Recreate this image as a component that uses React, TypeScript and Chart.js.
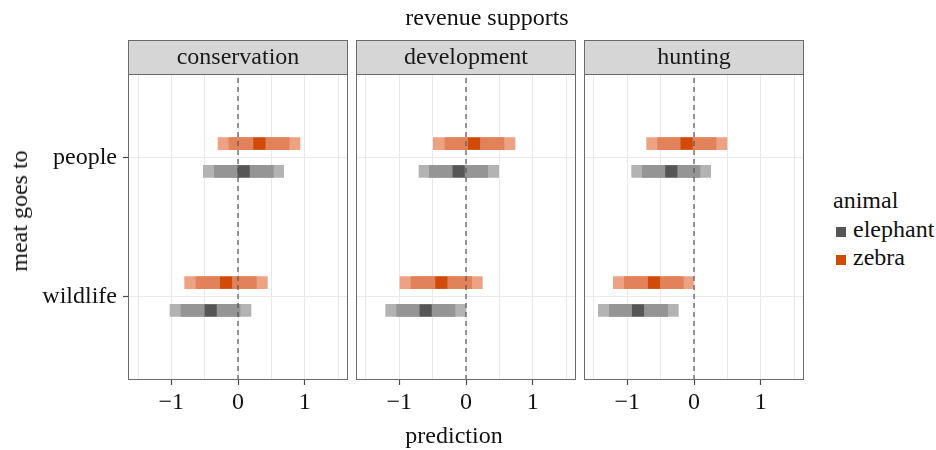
import React, { useEffect, useRef } from "react";
import { Chart, registerables } from "chart.js";

Chart.register(...registerables);

const FONT = '"Liberation Serif", "Times New Roman", serif';
const FONT_SIZE = 24;

// Facets (revenue supports) and y categories (meat goes to)
const facets = ["conservation", "development", "hunting"];
const destinations = ["people", "wildlife"];
const destinationPos = [2, 1];
const animals = ["elephant", "zebra"];

// Posterior summaries, indexed [facet][destination]
const zebraPoint = [
  [0.32, -0.18],
  [0.12, -0.37],
  [-0.11, -0.6],
];
const zebraLo80 = [
  [-0.135, -0.63],
  [-0.315, -0.825],
  [-0.545, -1.045],
];
const zebraHi80 = [
  [0.765, 0.275],
  [0.57, 0.085],
  [0.33, -0.16],
];
const zebraLo95 = [
  [-0.3, -0.8],
  [-0.49, -0.99],
  [-0.71, -1.21],
];
const zebraHi95 = [
  [0.93, 0.44],
  [0.735, 0.245],
  [0.495, 0.0],
];

const elephantPoint = [
  [0.085, -0.41],
  [-0.11, -0.605],
  [-0.34, -0.84],
];
const elephantLo80 = [
  [-0.355, -0.855],
  [-0.55, -1.04],
  [-0.775, -1.27],
];
const elephantHi80 = [
  [0.53, 0.03],
  [0.325, -0.165],
  [0.09, -0.395],
];
const elephantLo95 = [
  [-0.52, -1.02],
  [-0.705, -1.205],
  [-0.935, -1.435],
];
const elephantHi95 = [
  [0.685, 0.195],
  [0.49, -0.005],
  [0.25, -0.235],
];

const xGridValues = [-1.5, -1, -0.5, 0, 0.5, 1, 1.5];
const X_MIN = -1.65;
const X_MAX = 1.65;
const Y_MIN = 0.4;
const Y_MAX = 2.6;
const DODGE = 0.1;

const palette = {
  zebra: { point: "#d04a08", mid: "#e2825a", outer: "#eca283" },
  elephant: { point: "#565656", mid: "#959595", outer: "#b3b3b3" },
};

const animalData = {
  zebra: { point: zebraPoint, lo80: zebraLo80, hi80: zebraHi80, lo95: zebraLo95, hi95: zebraHi95, dodge: DODGE },
  elephant: {
    point: elephantPoint,
    lo80: elephantLo80,
    hi80: elephantHi80,
    lo95: elephantLo95,
    hi95: elephantHi95,
    dodge: -DODGE,
  },
};

const PANEL_TOP = 74;
const STRIP_H = 34;
const X_AXIS_H = 45;
const PAD_BOTTOM = 450 - 380 - X_AXIS_H;

const facetFrame = {
  id: "facetFrame",
  afterDraw(chart: any, _args: any, opts: any) {
    const { ctx, chartArea } = chart;
    const { left, right, top, bottom } = chartArea;
    ctx.save();
    ctx.fillStyle = "#d6d6d6";
    ctx.fillRect(left, top - STRIP_H, right - left, STRIP_H);
    ctx.strokeStyle = "#6a6a6a";
    ctx.lineWidth = 1;
    ctx.strokeRect(left + 0.5, top - STRIP_H + 0.5, right - left - 1, STRIP_H);
    ctx.strokeRect(left + 0.5, top + 0.5, right - left - 1, bottom - top - 1);
    ctx.fillStyle = "#1a1a1a";
    ctx.font = `${FONT_SIZE}px ${FONT}`;
    ctx.textAlign = "center";
    ctx.textBaseline = "alphabetic";
    ctx.fillText(opts.label, (left + right) / 2, top - STRIP_H + 24);
    ctx.restore();
  },
};

function formatTick(v: number) {
  if (!Number.isInteger(v)) return "";
  return v < 0 ? "\u2212" + Math.abs(v) : String(v);
}

function buildDatasets(f: number) {
  const ds: any[] = [
    {
      type: "scatter",
      data: [
        { x: 0, y: Y_MIN },
        { x: 0, y: Y_MAX },
      ],
      showLine: true,
      borderColor: "#555555",
      borderWidth: 1.2,
      borderDash: [5, 4],
      pointRadius: 0,
      order: 0,
    },
  ];
  for (const a of animals) {
    const d = (animalData as any)[a];
    const col = (palette as any)[a];
    ds.push({
      type: "scatter",
      label: a,
      data: destinations.map((_, k) => ({ x: d.point[f][k], y: destinationPos[k] + d.dodge })),
      pointStyle: "rect",
      pointRadius: 8.6,
      backgroundColor: col.point,
      borderWidth: 0,
      order: 1,
    });
    ds.push({
      type: "bar",
      indexAxis: "y",
      grouped: false,
      data: destinations.map((_, k) => ({ x: [d.lo80[f][k], d.hi80[f][k]], y: destinationPos[k] + d.dodge })),
      backgroundColor: col.mid,
      borderWidth: 0,
      barThickness: 12,
      order: 2,
    });
    ds.push({
      type: "bar",
      indexAxis: "y",
      grouped: false,
      data: destinations.map((_, k) => ({ x: [d.lo95[f][k], d.hi95[f][k]], y: destinationPos[k] + d.dodge })),
      backgroundColor: col.outer,
      borderWidth: 0,
      barThickness: 12,
      order: 3,
    });
  }
  return ds;
}

function Facet({ index, left, width }: { index: number; left: number; width: number }) {
  const ref = useRef<HTMLCanvasElement>(null);
  useEffect(() => {
    const first = index === 0;
    const font = { family: FONT, size: FONT_SIZE };
    const chart = new Chart(ref.current as HTMLCanvasElement, {
      type: "bar",
      data: { datasets: buildDatasets(index) },
      plugins: [facetFrame],
      options: {
        responsive: false,
        animation: false,
        events: [],
        layout: {
          autoPadding: false,
          padding: { left: first ? 0 : 4, right: 4, top: PANEL_TOP, bottom: PAD_BOTTOM },
        },
        plugins: {
          legend: { display: false },
          tooltip: { enabled: false },
          facetFrame: { label: facets[index] },
        } as any,
        scales: {
          x: {
            type: "linear",
            min: X_MIN,
            max: X_MAX,
            offset: false,
            beginAtZero: false,
            afterBuildTicks: (s: any) => {
              s.ticks = xGridValues.map((v) => ({ value: v }));
            },
            afterFit: (s: any) => {
              s.height = X_AXIS_H;
            },
            grid: {
              offset: false,
              color: "#e9e9e9",
              lineWidth: 1,
              drawTicks: true,
              tickLength: 5,
              tickWidth: 1.2,
              tickColor: (c: any) => (Number.isInteger(c.tick && c.tick.value) ? "#4a4a4a" : "rgba(0,0,0,0)"),
            },
            border: { display: false },
            ticks: {
              font,
              color: "#111111",
              padding: 3,
              maxRotation: 0,
              autoSkip: false,
              callback: (v: any) => formatTick(Number(v)),
            },
          },
          y: {
            type: "linear",
            min: Y_MIN,
            max: Y_MAX,
            offset: false,
            beginAtZero: false,
            afterBuildTicks: (s: any) => {
              s.ticks = destinationPos.map((v) => ({ value: v }));
            },
            afterFit: (s: any) => {
              s.width = first ? 128 : 0;
            },
            grid: {
              offset: false,
              color: "#e9e9e9",
              lineWidth: 1,
              drawTicks: first,
              tickLength: first ? 5 : 0,
              tickWidth: 1.2,
              tickColor: "#4a4a4a",
            },
            border: { display: false },
            ticks: {
              display: first,
              font,
              color: "#111111",
              padding: 6,
              callback: (v: any) => {
                const k = destinationPos.indexOf(Number(v));
                return k >= 0 ? destinations[k] : "";
              },
            },
          },
        },
      } as any,
    });
    return () => chart.destroy();
  }, [index]);
  return (
    <canvas
      ref={ref}
      width={width}
      height={450}
      style={{ position: "absolute", left, top: 0, width, height: 450 }}
    />
  );
}

const textStyle: React.CSSProperties = {
  position: "absolute",
  fontFamily: FONT,
  fontSize: FONT_SIZE,
  lineHeight: `${FONT_SIZE}px`,
  whiteSpace: "nowrap",
  color: "#111111",
};

export default function App() {
  return (
    <div
      style={{
        position: "fixed",
        left: 0,
        top: 0,
        width: 936,
        height: 450,
        background: "#ffffff",
        overflow: "hidden",
      }}
    >
      <Facet index={0} left={0} width={352} />
      <Facet index={1} left={352} width={228} />
      <Facet index={2} left={580} width={228} />

      <div style={{ ...textStyle, left: 487, top: 16.7, transform: "translate(-50%, -50%)" }}>revenue supports</div>
      <div style={{ ...textStyle, left: 454, top: 434.7, transform: "translate(-50%, -50%)" }}>prediction</div>
      <div
        style={{
          ...textStyle,
          left: 19,
          top: 211,
          transform: "translate(-50%, -50%) rotate(-90deg)",
        }}
      >
        meat goes to
      </div>

      <div style={{ ...textStyle, left: 833, top: 200, transform: "translateY(-50%)" }}>animal</div>
      {animals.map((a, i) => (
        <React.Fragment key={a}>
          <div
            style={{
              position: "absolute",
              left: 836,
              top: 227 + i * 27.5,
              width: 10,
              height: 10,
              background: (palette as any)[a].point,
            }}
          />
          <div style={{ ...textStyle, left: 853, top: 229.4 + i * 27.5, transform: "translateY(-50%)" }}>{a}</div>
        </React.Fragment>
      ))}
    </div>
  );
}
